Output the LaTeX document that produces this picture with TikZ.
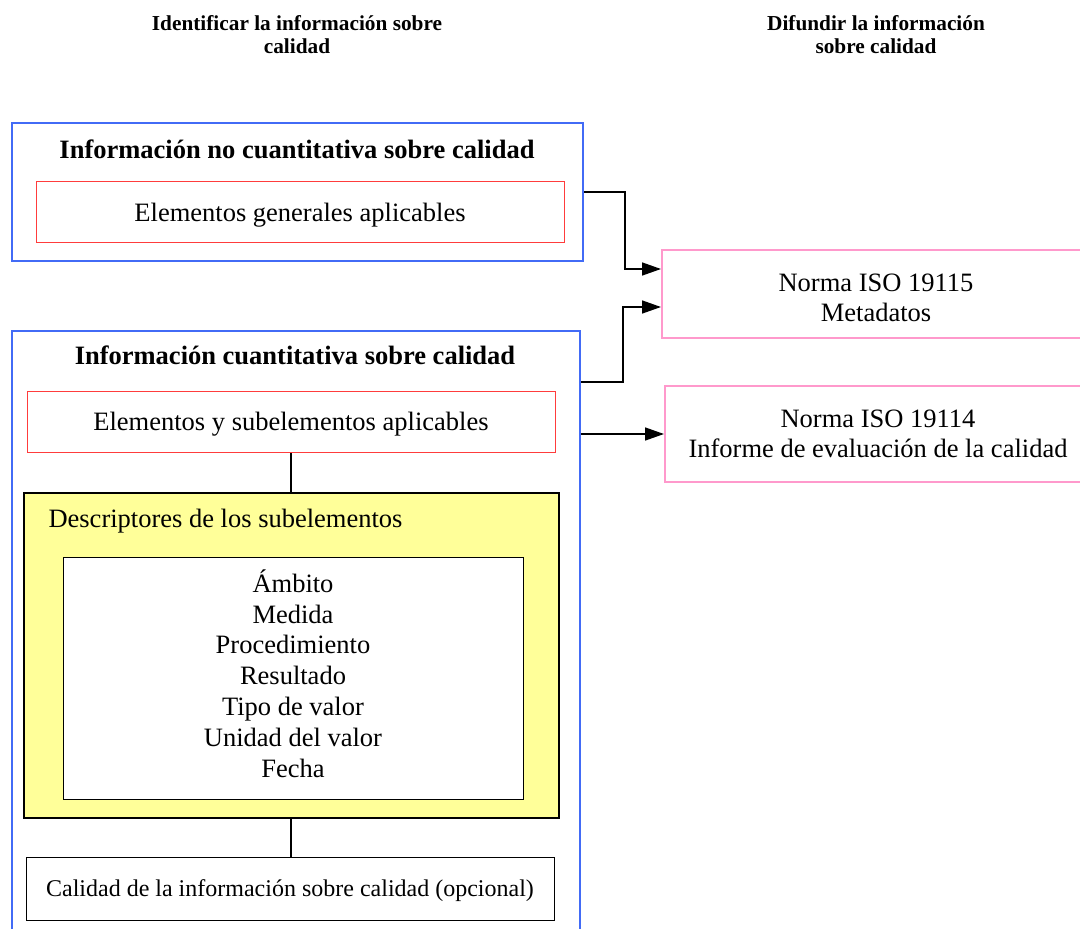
\documentclass[tikz,border=0pt]{standalone}
\usepackage{fontspec}
\setmainfont{Liberation Serif}
\usetikzlibrary{arrows.meta}
\definecolor{bluebox}{RGB}{66,107,246}
\definecolor{redbox}{RGB}{255,60,60}
\definecolor{pinkbox}{RGB}{255,153,204}
\definecolor{yellowbox}{RGB}{255,255,153}
\begin{document}
\begin{tikzpicture}[x=1pt,y=-1pt,
  box/.style={rectangle, inner sep=0pt, anchor=north west},
  bluebx/.style={box, draw=bluebox, line width=2pt},
  redbx/.style={box, draw=redbox, line width=1pt},
  pinkbx/.style={box, draw=pinkbox, line width=2pt},
  blackbx/.style={box, draw=black, line width=1.3pt},
  yellowbx/.style={box, draw=black, fill=yellowbox, line width=1.5pt},
  heading/.style={font=\bfseries\fontsize{21.3pt}{22.5pt}\selectfont, align=center, anchor=base},
  boldtxt/.style={font=\bfseries\fontsize{26.5pt}{30pt}\selectfont, anchor=base},
  txt/.style={font=\fontsize{26.5pt}{30pt}\selectfont, anchor=base},
  arr/.style={-{Triangle[length=19pt,width=13pt]}, line width=1.5pt},
  conn/.style={line width=1.5pt}]
\useasboundingbox (0,0) rectangle (1080,929);

% headings (base anchor = last line baseline)
\node[heading] (h1) at (297,53) {Identificar la información sobre\\calidad};
\node[heading] (h2) at (876,53) {Difundir la información\\sobre calidad};

% box 1
\node[bluebx, minimum width=571pt, minimum height=138pt] (b1) at (11,122) {};
\node[boldtxt] (t1) at (297,158) {Información no cuantitativa sobre calidad};
\node[redbx, minimum width=528pt, minimum height=61pt] (r1) at (36,181) {};
\node[txt] (r1t) at (300,221) {Elementos generales aplicables};

% box 2
\node[bluebx, minimum width=568pt, minimum height=640pt] (b2) at (11,330) {};
\node[boldtxt] (t2) at (295,364.5) {Información cuantitativa sobre calidad};
\node[redbx, minimum width=528pt, minimum height=61pt] (r2) at (27,391) {};
\node[txt] (r2t) at (291,430.5) {Elementos y subelementos aplicables};

\node[yellowbx, minimum width=535pt, minimum height=325pt] (y) at (23,492) {};
\node[txt, anchor=base west] (yt) at (45,527) {Descriptores de los subelementos};
\node[blackbx, fill=white, line width=1pt, minimum width=460pt, minimum height=242pt] (w) at (63,557) {};
\node[font=\fontsize{26.5pt}{30.8pt}\selectfont, align=center, anchor=base] (wt) at (293,777)
  {Ámbito\\Medida\\Procedimiento\\Resultado\\Tipo de valor\\Unidad del valor\\Fecha};

\node[blackbx, minimum width=528pt, minimum height=63pt] (q) at (26,857) {};
\node[font=\fontsize{24pt}{28pt}\selectfont, anchor=base] (qt) at (290,896) {Calidad de la información sobre calidad (opcional)};

% right boxes
\node[pinkbx, minimum width=430pt, minimum height=88pt] (p1) at (661,249) {};
\node[font=\fontsize{26.5pt}{29.5pt}\selectfont, align=center, anchor=base] (p1t) at (876,321) {Norma ISO 19115\\Metadatos};
\node[pinkbx, minimum width=428pt, minimum height=96pt] (p2) at (664,385) {};
\node[font=\fontsize{26.5pt}{29.5pt}\selectfont, align=center, anchor=base] (p2t) at (878,457) {Norma ISO 19114\\Informe de evaluación de la calidad};

% connectors
\draw[conn] (r2.south -| 291,0) -- (y.north -| 291,0);
\draw[conn] (y.south -| 291,0) -- (q.north -| 291,0);
\draw[arr] (b1.east) -- ++(41,0) |- ([yshift=25pt]p1.west);
\draw[arr] ([yshift=-52pt]b2.north east) -- ++(42,0) |- ([yshift=-13pt]p1.west);
\draw[arr] ([yshift=-104pt]b2.north east) -- ([yshift=-104pt]b2.north east -| p2.west);
\end{tikzpicture}
\end{document}
